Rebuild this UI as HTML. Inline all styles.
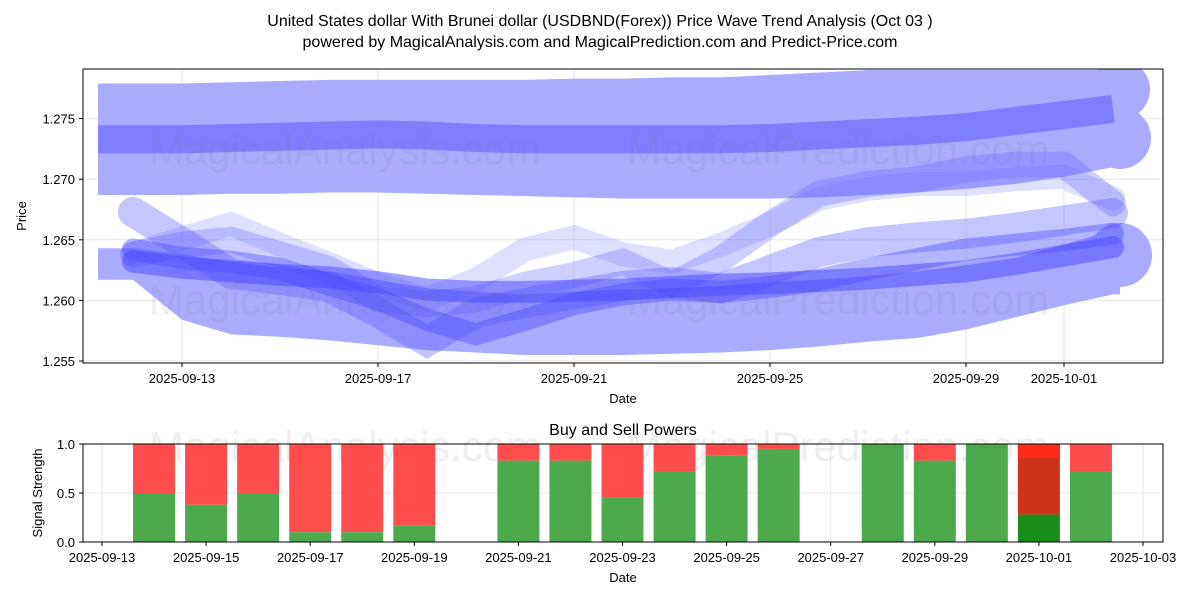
<!DOCTYPE html>
<html><head><meta charset="utf-8"><style>
body{margin:0;background:#fff;}
svg text{font-family:"Liberation Sans","DejaVu Sans",sans-serif;}
</style></head><body>
<svg id="c" width="1200" height="600" xmlns="http://www.w3.org/2000/svg">
<rect width="1200" height="600" fill="#fff"/>
<text x="600" y="26" text-anchor="middle" font-size="16">United States dollar With Brunei dollar (USDBND(Forex)) Price Wave Trend Analysis (Oct 03 )</text>
<text x="600" y="47" text-anchor="middle" font-size="16">powered by MagicalAnalysis.com and MagicalPrediction.com and Predict-Price.com</text>
<g id="topg"></g><g id="botg"></g>
</svg>
<script>
const ns="http://www.w3.org/2000/svg";
// ---- top chart data (day index 0 = 2025-09-12) ----
const days=[0,1,2,3,4,5,6,7,8,9,10,11,12,13,14,15,16,17,18,19,20];
const lowBandTop=[1.2643,1.2638,1.2632,1.2627,1.2624,1.2617,1.2610,1.2607,1.2605,1.2607,1.2609,1.2610,1.2612,1.2615,1.2617,1.2620,1.2624,1.2629,1.2635,1.2646,1.2658];
const lowBandBot=[1.2617,1.2584,1.2572,1.2570,1.2567,1.2563,1.2559,1.2557,1.2555,1.2555,1.2555,1.2556,1.2557,1.2559,1.2562,1.2566,1.2569,1.2576,1.2586,1.2596,1.2605];
const upBandTop=[1.2779,1.2779,1.2780,1.2781,1.2782,1.2782,1.2782,1.2782,1.2782,1.2783,1.2783,1.2784,1.2784,1.2786,1.2788,1.2790,1.2790,1.2790,1.2790,1.2790,1.2790];
const upBandBot=[1.2687,1.2687,1.2688,1.2688,1.2689,1.2689,1.2688,1.2687,1.2686,1.2685,1.2684,1.2684,1.2684,1.2684,1.2685,1.2687,1.2689,1.2692,1.2696,1.2702,1.2710];
const midTrend=[1.2733,1.2733,1.2734,1.2735,1.2736,1.2737,1.2736,1.2734,1.2733,1.2733,1.2733,1.2733,1.2733,1.2734,1.2736,1.2738,1.2740,1.2743,1.2748,1.2753,1.2758];
const lineA=[1.2632,1.2627,1.2624,1.2621,1.2619,1.2615,1.2609,1.2607,1.2607,1.2608,1.2609,1.2611,1.2613,1.2614,1.2616,1.2618,1.2621,1.2624,1.2630,1.2637,1.2644];
const lineB=[1.2642,1.2635,1.2632,1.2626,1.2613,1.2601,1.2584,1.2572,1.2584,1.2597,1.2605,1.2609,1.2607,1.2611,1.2617,1.2626,1.2634,1.2642,1.2646,1.2650,1.2655];
const lineC=[1.2638,1.2646,1.2650,1.2638,1.2626,1.2601,1.2597,1.2601,1.2613,1.2621,1.2632,1.2613,1.2634,1.2663,1.2688,1.2696,1.2700,1.2708,1.2712,1.2712,1.2680];
const lineD=[1.2673,1.2648,1.2622,1.2617,1.2611,1.2590,1.2566,1.2590,1.2598,1.2605,1.2612,1.2615,1.2610,1.2625,1.2640,1.2648,1.2652,1.2655,1.2660,1.2666,1.2672];
const lineE=[1.2638,1.2651,1.2663,1.2646,1.2630,1.2613,1.2601,1.2617,1.2642,1.2652,1.2638,1.2632,1.2646,1.2663,1.2684,1.2692,1.2696,1.2696,1.2700,1.2702,1.2684];
const yTicks=[1.255,1.260,1.265,1.270,1.275];
const xTickLabels=["2025-09-13","2025-09-17","2025-09-21","2025-09-25","2025-09-29","2025-10-01"];
const xTickDays=[1,5,9,13,17,19];
// ---- bottom chart data ----
const barBuy=[0.50,0.38,0.50,0.10,0.10,0.17,0.83,0.83,0.45,0.72,0.88,0.95,1.00,0.83,1.00,0.28,0.72];
const barDates=["09-14","09-15","09-16","09-17","09-18","09-19","09-21","09-22","09-23","09-24","09-25","09-26","09-28","09-29","09-30","10-01","10-02"];
const barDayIdx=[1,2,3,4,5,6,8,9,10,11,12,13,15,16,17,18,19];
const bTickLabels=["2025-09-13","2025-09-15","2025-09-17","2025-09-19","2025-09-21","2025-09-23","2025-09-25","2025-09-27","2025-09-29","2025-10-01","2025-10-03"];
const bTicks=[0,2,4,6,8,10,12,14,16,18,20];
const bYTicks=[0.0,0.5,1.0];

const X=d=>133+49*d, Y=p=>361-(p-1.255)*12120;
const BX=d=>102+52.05*d, BY=v=>542-v*98;
function mk(tag,attrs,parent){const e=document.createElementNS(ns,tag);for(const k in attrs)e.setAttribute(k,attrs[k]);parent.appendChild(e);return e;}
const topG=document.getElementById('topg'), botG=document.getElementById('botg');
const defs=mk('defs',{},topG);
const cp=mk('clipPath',{id:'cp'},defs);mk('rect',{x:83,y:69,width:1080,height:294},cp);
yTicks.forEach(t=>{const l=mk('line',{x1:83,x2:1163,y1:Y(t),y2:Y(t),stroke:'#e6e6e6'},topG);


mk('line',{x1:79,x2:83,y1:Y(t),y2:Y(t),stroke:'#000'},topG);
const tx=mk('text',{x:75,y:Y(t)+5,'text-anchor':'end','font-size':13},topG);tx.textContent=t.toFixed(3);

});
xTickDays.forEach((d,i)=>{const l=mk('line',{x1:X(d),x2:X(d),y1:69,y2:363,stroke:'#e6e6e6'},topG);


mk('line',{x1:X(d),x2:X(d),y1:363,y2:367,stroke:'#000'},topG);
const tx=mk('text',{x:X(d),y:383,'text-anchor':'middle','font-size':13},topG);tx.textContent=xTickLabels[i];

});
const g=mk('g',{'clip-path':'url(#cp)'},topG);
function band(tp,bt,name){let pts=[];pts.push([X(days[0])-35,Y(tp[0])]);
days.forEach((d,i)=>pts.push([X(d),Y(tp[i])]));pts.push([X(days[days.length-1])+7,Y(tp[tp.length-1])]);
pts.push([X(days[days.length-1])+7,Y(bt[bt.length-1])]);
for(let i=days.length-1;i>=0;i--)pts.push([X(days[i]),Y(bt[i])]);pts.push([X(days[0])-35,Y(bt[0])]);
const p=mk('polygon',{points:pts.map(q=>q.join(',')).join(' '),fill:'#aaaaff'},g);

}
band(upBandTop,upBandBot,'upper-band');
band(lowBandTop,lowBandBot,'lower-band');
const n=days.length-1, ex=X(days[n])+7;
[[(upBandTop[n]+upBandBot[n])/2+0.0024,30],[(upBandTop[n]+upBandBot[n])/2-0.0016,31]].forEach(c=>{const e=mk('circle',{cx:ex,cy:Y(c[0]),r:c[1],fill:'#aaaaff'},g);

});
{const e=mk('circle',{cx:ex,cy:Y((lowBandTop[n]+lowBandBot[n])/2+0.0006),r:32,fill:'#aaaaff'},g);

}
function line(arr,w,col,name,ext){const pts=days.map((d,i)=>[X(d),Y(arr[i])]);
if(ext)pts.unshift([X(days[0])-35,Y(arr[0])]);
const p=mk('polyline',{points:pts.map(q=>q.join(',')).join(' '),fill:'none',stroke:col,'stroke-width':w,'stroke-linejoin':'miter','stroke-linecap':ext?'butt':'round'},g);

}
line(midTrend,28,'rgba(90,90,255,0.55)','mid-trend-line',true);
line(lineE,24,'rgba(110,110,255,0.22)','wave-line-e');
line(lineC,26,'rgba(100,100,255,0.3)','wave-line-c');
line(lineD,30,'rgba(90,90,255,0.35)','wave-line-d');
line(lineB,22,'rgba(70,70,255,0.4)','wave-line-b');
line(lineA,22,'rgba(70,70,255,0.5)','wave-line-a');
[[345,150,'MagicalAnalysis.com'],[838,150,'MagicalPrediction.com'],[345,300,'MagicalAnalysis.com'],[838,300,'MagicalPrediction.com'],[345,447,'MagicalAnalysis.com'],[838,447,'MagicalPrediction.com']].forEach(w=>{
const t=mk('text',{x:w[0],y:w[1]+14,'text-anchor':'middle','font-size':42,fill:'rgba(120,120,140,0.13)'},topG);t.textContent=w[2];

});
mk('rect',{x:83,y:69,width:1080,height:294,fill:'none',stroke:'#000'},topG);
let t=mk('text',{x:623,y:403,'text-anchor':'middle','font-size':13},topG);t.textContent='Date';


t=mk('text',{x:0,y:0,'text-anchor':'middle','font-size':13,transform:'translate(26,216) rotate(-90)'},topG);t.textContent='Price';


// ---- bottom ----
t=mk('text',{x:623,y:435,'text-anchor':'middle','font-size':16},botG);t.textContent='Buy and Sell Powers';


bYTicks.forEach(v=>{const l=mk('line',{x1:83,x2:1163,y1:BY(v),y2:BY(v),stroke:'#e6e6e6'},botG);


mk('line',{x1:79,x2:83,y1:BY(v),y2:BY(v),stroke:'#000'},botG);
const tx=mk('text',{x:75,y:BY(v)+5,'text-anchor':'end','font-size':13},botG);tx.textContent=v.toFixed(1);

});
bTicks.forEach((d,i)=>{const l=mk('line',{x1:BX(d),x2:BX(d),y1:444,y2:542,stroke:'#e6e6e6'},botG);


mk('line',{x1:BX(d),x2:BX(d),y1:542,y2:546,stroke:'#000'},botG);
const tx=mk('text',{x:BX(d),y:562,'text-anchor':'middle','font-size':13},botG);tx.textContent=bTickLabels[i];

});
barDayIdx.forEach((d,i)=>{const cx=BX(d),w=42,v=barBuy[i];const last=barDates[i]==='10-01';
const r=mk('rect',{x:cx-w/2,y:BY(1),width:w,height:BY(v)-BY(1),fill:last?'#cc3319':'#ff4c4c'},botG);


if(last){const r2=mk('rect',{x:cx-w/2,y:BY(1),width:w,height:14,fill:'#ff2a1a'},botG);

}
const b=mk('rect',{x:cx-w/2,y:BY(v),width:w,height:BY(0)-BY(v),fill:last?'#1a8c1a':'#4caa4c'},botG);

});
mk('rect',{x:83,y:444,width:1080,height:98,fill:'none',stroke:'#000'},botG);
t=mk('text',{x:623,y:582,'text-anchor':'middle','font-size':13},botG);t.textContent='Date';


t=mk('text',{x:0,y:0,'text-anchor':'middle','font-size':13,transform:'translate(42,493) rotate(-90)'},botG);t.textContent='Signal Strength';


</script>
</body></html>
